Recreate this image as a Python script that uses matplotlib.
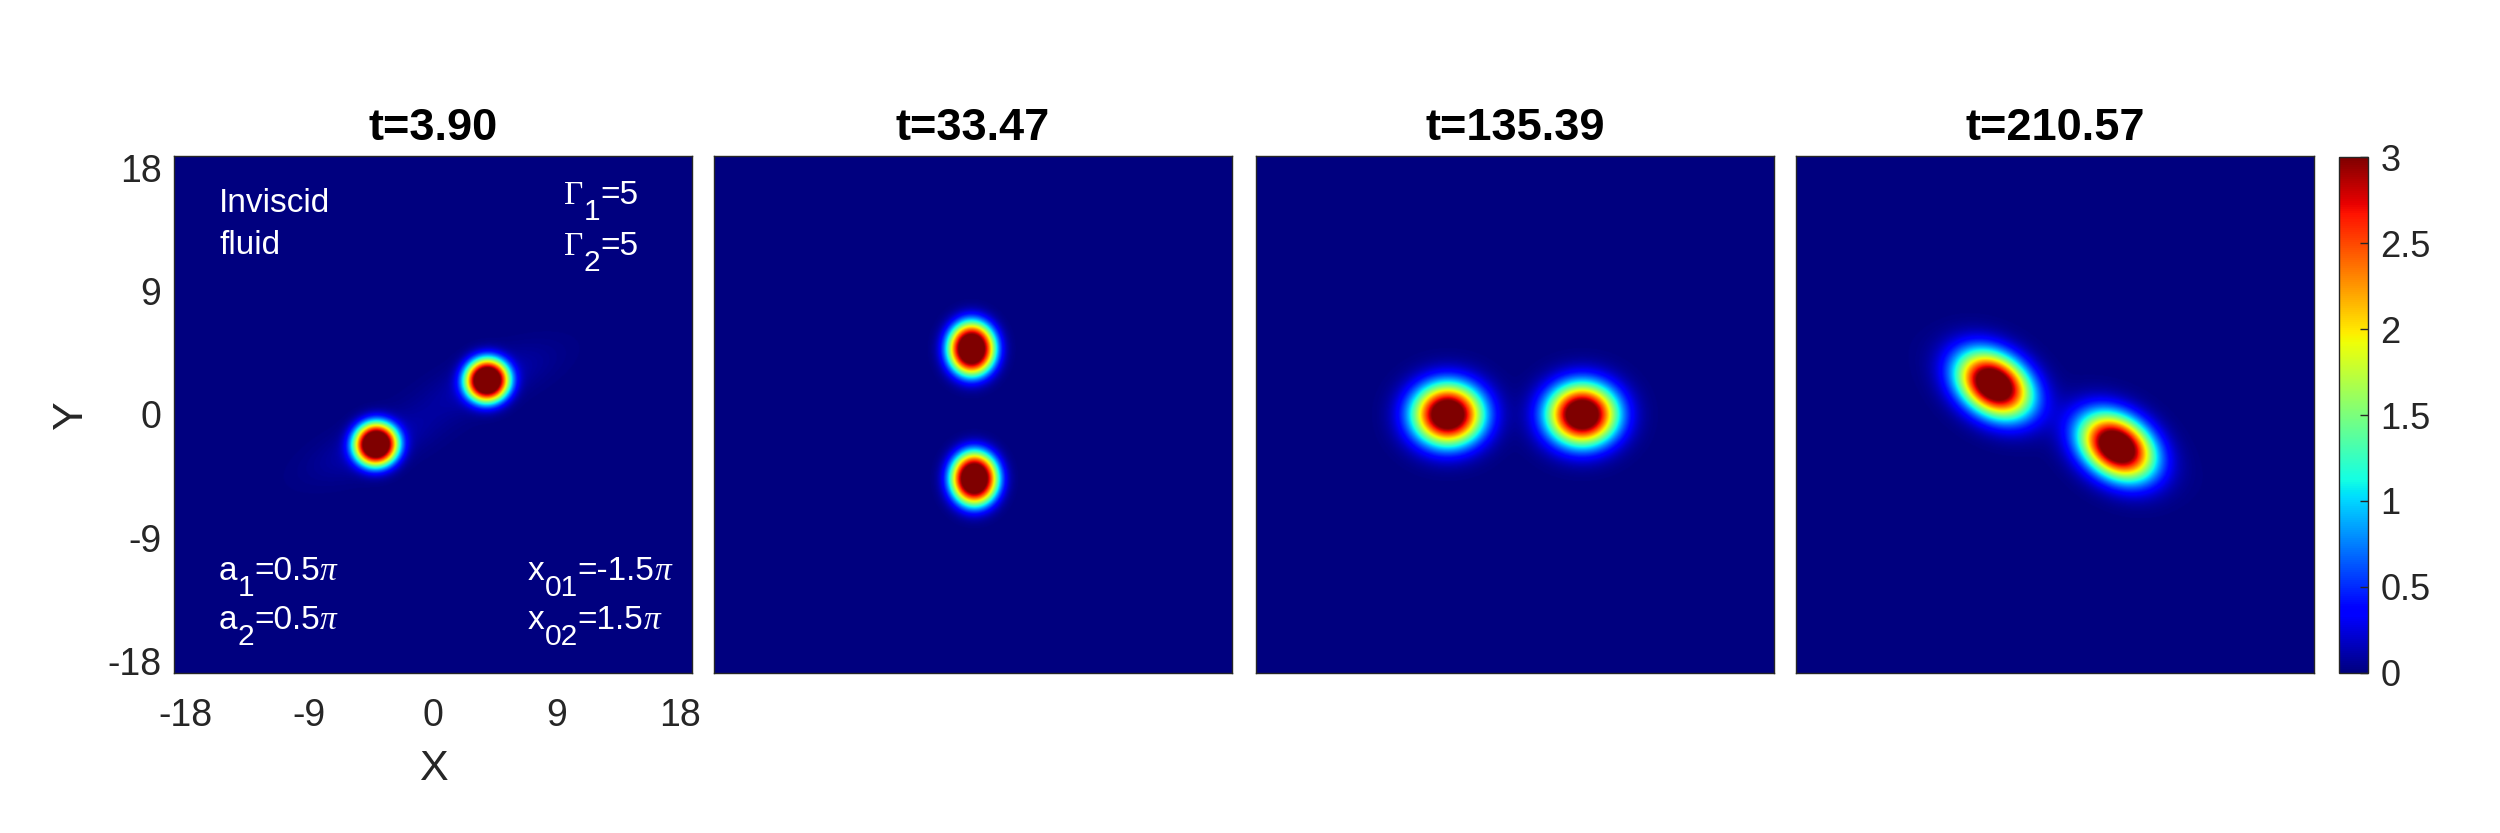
import numpy as np
import matplotlib
matplotlib.use('Agg')
import matplotlib.pyplot as plt
from matplotlib.ticker import FuncFormatter
from matplotlib.transforms import IdentityTransform

plt.rcParams['font.family'] = ['Liberation Sans', 'DejaVu Sans']
plt.rcParams['axes.unicode_minus'] = False

# ---------------- data ----------------
titles = ['t=3.90', 't=33.47', 't=135.39', 't=210.57']
axis_ticks = [-18, -9, 0, 9, 18]
cbar_ticks = [0, 0.5, 1, 1.5, 2, 2.5, 3]
domain_half = 6 * np.pi

# two vortices per panel: centre, size along / across the tilt, tilt (deg)
vort_x = [[3.95, -4.15], [-0.10, 0.10], [-4.90, 4.90], [-4.45, 4.52]]
vort_y = [[2.49, -2.18], [4.80, -4.68], [0.00, 0.00], [2.18, -2.35]]
vort_sa = [[1.62, 1.62], [1.72, 1.72], [2.50, 2.50], [2.85, 2.85]]
vort_sb = [[1.60, 1.60], [1.95, 1.95], [2.20, 2.20], [2.07, 2.07]]
vort_tilt = [[30, 30], [0, 0], [0, 0], [-35, -35]]
vort_peak = [3.6, 3.6, 3.6, 3.6]
vort_power = [2.8, 2.8, 2.2, 2.2]

# faint filaments around the vortices (amplitude, length, width, tilt)
tail_amp = [0.15, 0.0, 0.0, 0.05]
tail_len = [4.5, 1.0, 1.0, 5.0]
tail_wid = [1.6, 1.0, 1.0, 2.0]
tail_tilt = [22, 0, 0, -25]
# ------------------------------------------------------------

N = 700
g = np.linspace(-domain_half, domain_half, N)
X, Y = np.meshgrid(g, g)


def field(k):
    w = np.zeros_like(X)
    for j in range(2):
        dx = X - vort_x[k][j]
        dy = Y - vort_y[k][j]
        th = np.deg2rad(vort_tilt[k][j])
        u = dx * np.cos(th) + dy * np.sin(th)
        v = -dx * np.sin(th) + dy * np.cos(th)
        rho = np.sqrt((u / vort_sa[k][j]) ** 2 + (v / vort_sb[k][j]) ** 2)
        w += vort_peak[k] * np.exp(-rho ** vort_power[k])
        if tail_amp[k] > 0:
            th2 = np.deg2rad(tail_tilt[k])
            u2 = dx * np.cos(th2) + dy * np.sin(th2)
            v2 = -dx * np.sin(th2) + dy * np.cos(th2)
            w += tail_amp[k] * np.exp(-(u2 / tail_len[k]) ** 2 - (v2 / tail_wid[k]) ** 2)
    return w


fig = plt.figure(figsize=(25, 8.33), dpi=100)
W, H = 2500, 833
panel_left = [174, 714, 1256, 1796]
panel_w = 518
bot = (833 - 673) / H
hgt = 517 / H
tc = '#262626'

axes = []
for k in range(4):
    ax = fig.add_axes([panel_left[k] / W, bot, panel_w / W, hgt])
    im = ax.imshow(field(k), origin='lower', cmap='jet', vmin=0, vmax=3,
                   extent=[-domain_half, domain_half, -domain_half, domain_half],
                   aspect='auto', interpolation='bilinear')
    ax.set_xlim(-domain_half, domain_half)
    ax.set_ylim(-domain_half, domain_half)
    ax.set_title(titles[k], fontsize=32.5, fontweight='bold', pad=11.5)
    for s in ax.spines.values():
        s.set_color(tc)
        s.set_linewidth(1.0)
    if k == 0:
        ax.set_xticks(axis_ticks)
        ax.set_yticks(axis_ticks)
        ax.tick_params(length=0, labelsize=27, colors=tc, pad=18, axis='x')
        ax.tick_params(length=0, labelsize=27, colors=tc, pad=9, axis='y')
        ax.set_xlabel('X', fontsize=31, color=tc)
        ax.set_ylabel('Y', fontsize=31, color=tc)
        ax.xaxis.set_label_coords(0.5, -0.147)
        ax.yaxis.set_label_coords(-0.16, 0.5)
    else:
        ax.set_xticks([])
        ax.set_yticks([])
    axes.append(ax)

renderer = fig.canvas.get_renderer()
SANS = 'Liberation Sans'
SERIF = 'Liberation Serif'
MAIN = 24
SUB = 0.9
DROP = -11.5  # points


def rich(ax, xf, yf, pieces):
    x, y = ax.transAxes.transform((xf, yf))
    for s, fam, style, scale, dy in pieces:
        t = ax.text(x, y + dy * 100 / 72, s, transform=IdentityTransform(),
                    fontsize=MAIN * scale, family=fam, style=style,
                    color='white', va='baseline', ha='left')
        x = t.get_window_extent(renderer).x1


a0 = axes[0]
rich(a0, 0.087, 0.8925, [('Inviscid', SANS, 'normal', 1, 0)])
rich(a0, 0.087, 0.810, [('fluid', SANS, 'normal', 1, 0)])
for yf, n in [(0.908, '1'), (0.8085, '2')]:
    rich(a0, 0.753, yf, [('\u0393', SERIF, 'normal', 1, 0), (n, SANS, 'normal', SUB, DROP),
                         ('=5', SANS, 'normal', 1, 0)])
for yf, n in [(0.180, '1'), (0.085, '2')]:
    rich(a0, 0.087, yf, [('a', SANS, 'normal', 1, 0), (n, SANS, 'normal', SUB, DROP),
                         ('=0.5', SANS, 'normal', 1, 0), ('\u03c0', SERIF, 'italic', 1, 0)])
for yf, n, val in [(0.180, '01', '=-1.5'), (0.085, '02', '=1.5')]:
    rich(a0, 0.683, yf, [('x', SANS, 'normal', 1, 0), (n, SANS, 'normal', SUB, DROP),
                         (val, SANS, 'normal', 1, 0), ('\u03c0', SERIF, 'italic', 1, 0)])

cax = fig.add_axes([2339 / W, (833 - 673) / H, 29 / W, 516 / H])
cb = fig.colorbar(im, cax=cax, ticks=cbar_ticks)
cb.ax.yaxis.set_major_formatter(FuncFormatter(lambda v, p: '%g' % v))
cb.ax.tick_params(direction='in', length=6, width=1, colors=tc, labelsize=26, pad=9)
cb.outline.set_edgecolor(tc)
cb.outline.set_linewidth(1.0)

fig.savefig('out.png', dpi=100)
